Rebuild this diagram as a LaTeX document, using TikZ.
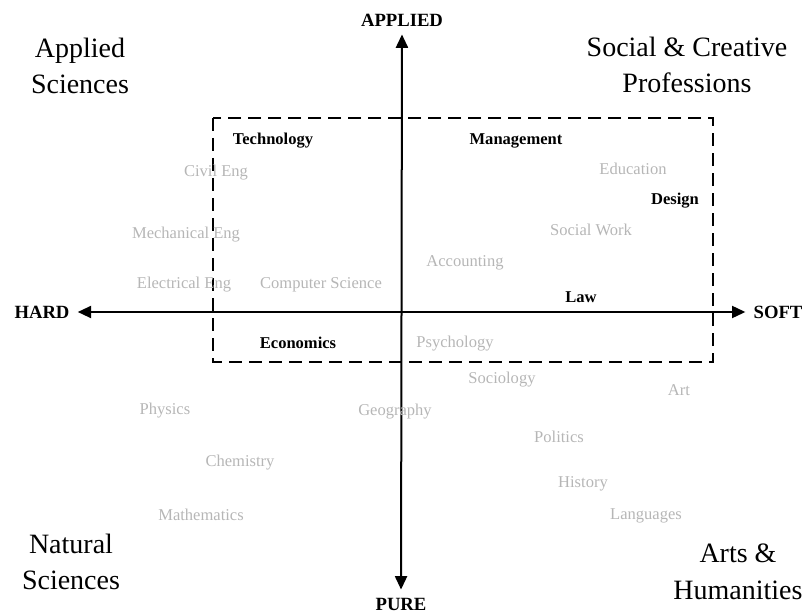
\documentclass[tikz,border=0pt]{standalone}
\usepackage{fontspec}
\setmainfont{Liberation Serif}
\usetikzlibrary{arrows.meta}
\definecolor{subjgray}{RGB}{182,182,182}
\begin{document}
\begin{tikzpicture}[x=0.75pt, y=-0.75pt,
	subject/.style={text=subjgray, font=\fontsize{12.4}{14}\selectfont, inner sep=0pt},
	field/.style={font=\fontsize{12.4}{14}\selectfont\bfseries, inner sep=0pt},
	axislabel/.style={font=\fontsize{14}{16}\selectfont\bfseries, inner sep=6pt},
	quadrant/.style={font=\fontsize{21}{27.4}\selectfont, align=center, inner sep=0pt},
	axis/.style={line width=1.5pt, {Triangle[length=10pt,width=9pt]}-{Triangle[length=10pt,width=9pt]}}]
	
	\useasboundingbox (0,0) rectangle (806,613);
	
	\node[axislabel] (applied) at (402,20) {APPLIED};
	\node[axislabel] (pure) at (401,604) {PURE};
	\node[axislabel] (hard) at (42,312) {HARD};
	\node[axislabel] (soft) at (778,312) {SOFT};
	\draw[axis] (applied) -- (pure);
	\draw[axis] (hard) -- (soft);
	
	\draw[line width=2.2pt, dash pattern=on 10pt off 5pt] (213,118) rectangle (713,362);
	
	\node[quadrant] (appsci) at (80,66) {Applied\\Sciences};
	\node[quadrant] (social) at (687,65) {Social \& Creative\\Professions};
	\node[quadrant] (natsci) at (71,562) {Natural\\Sciences};
	\node[quadrant] (arts) at (738,572) {Arts \&\\Humanities};
	
	\node[field] (technology) at (273,141) {Technology};
	\node[field] (management) at (516,141) {Management};
	\node[field] (design) at (675,201) {Design};
	\node[field] (law) at (581,297) {Law};
	\node[field] (economics) at (298,343) {Economics};
	
	\node[subject] (civil) at (216,173) {Civil Eng};
	\node[subject] (mech) at (186,235) {Mechanical Eng};
	\node[subject] (elec) at (184,285) {Electrical Eng};
	\node[subject] (cs) at (321,285) {Computer Science};
	\node[subject] (education) at (633,169) {Education};
	\node[subject] (socialwork) at (591,230) {Social Work};
	\node[subject] (accounting) at (465,263) {Accounting};
	\node[subject] (psychology) at (455,344) {Psychology};
	\node[subject] (sociology) at (502,380) {Sociology};
	\node[subject] (art) at (679,390) {Art};
	\node[subject] (physics) at (165,411) {Physics};
	\node[subject] (geography) at (395,412) {Geography};
	\node[subject] (politics) at (559,437) {Politics};
	\node[subject] (chemistry) at (240,463) {Chemistry};
	\node[subject] (history) at (583,484) {History};
	\node[subject] (maths) at (201,515) {Mathematics};
	\node[subject] (languages) at (646,516) {Languages};
\end{tikzpicture}
\end{document}
